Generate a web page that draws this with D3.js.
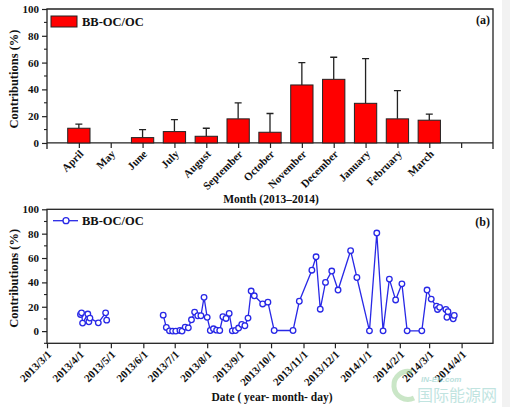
<!DOCTYPE html>
<html><head><meta charset="utf-8">
<script src="https://cdn.jsdelivr.net/npm/d3@7"></script>
<style>
html,body{margin:0;padding:0;background:#fff;}
svg{display:block;}
text{font-family:"Liberation Serif","Times New Roman",serif;font-weight:bold;fill:#111;}
</style></head>
<body><svg id="c" width="510" height="407"></svg>
<script>
// ---- Data: panel (a) monthly bars ----
const months = ["April","May","June","July","August","September","October","November","December","January","February","March"];
const monthValues = [11, null, 4, 8.5, 5, 18, 8, 43.3, 47.5, 29.6, 18, 17];
const monthErrors = [3, null, 6, 9, 6, 12, 14, 16.7, 16.5, 33.4, 21, 4.6];
const yTicksA = [0, 20, 40, 60, 80, 100];

// ---- Data: panel (b) daily series (two sampled periods) ----
const datesSpring = ["2013-04-02","2013-04-03","2013-04-04","2013-04-09","2013-04-10","2013-04-11","2013-04-19","2013-04-26","2013-04-27"];
const valuesSpring = [13.7, 15, 6.6, 14, 7.7, 10.7, 6.8, 15, 9];
const datesMain = ["2013-06-20","2013-06-23","2013-06-26","2013-06-29","2013-07-02","2013-07-06","2013-07-08","2013-07-11","2013-07-14","2013-07-17",
  "2013-07-20","2013-07-23","2013-07-26","2013-07-29","2013-08-01","2013-08-04","2013-08-07","2013-08-10","2013-08-13","2013-08-16",
  "2013-08-19","2013-08-22","2013-08-25","2013-08-28","2013-08-31","2013-09-03","2013-09-06","2013-09-09","2013-09-12","2013-09-15",
  "2013-09-23","2013-09-28","2013-10-04","2013-10-22","2013-10-28","2013-11-09","2013-11-13","2013-11-17","2013-11-22","2013-11-28",
  "2013-12-04","2013-12-16","2013-12-22","2014-01-03","2014-01-10","2014-01-16","2014-01-22","2014-01-28","2014-02-03","2014-02-08",
  "2014-02-22","2014-02-27","2014-03-03","2014-03-08","2014-03-09","2014-03-11","2014-03-17","2014-03-18","2014-03-19","2014-03-24","2014-03-25"];
const valuesMain = [13.1, 3, 0.2, 0, 0, 0.5, 0, 3.3, 2.7, 9.3,
  15.6, 12.6, 12.6, 27.7, 11.3, 0.5, 1.9, 0.8, 0.5, 11.8,
  10.4, 14.5, 0.2, 0.5, 2.5, 5.5, 4.4, 10.7, 32.9, 29,
  22.3, 23.8, 0.5, 0.5, 24.5, 50, 61, 18, 40, 49.3,
  33.7, 66, 44, 0.2, 80.5, 0.2, 42.7, 25.6, 38.8, 0.2,
  0.2, 33.7, 26.3, 20.4, 17.8, 19.5, 17.8, 11.4, 16, 10.1, 12.9];
const dateTickLabels = ["2013/3/1","2013/4/1","2013/5/1","2013/6/1","2013/7/1","2013/8/1","2013/9/1","2013/10/1","2013/11/1","2013/12/1","2014/1/1","2014/2/1","2014/3/1","2014/4/1"];
const yTicksB = [0, 20, 40, 60, 80, 100];

const svg = d3.select("#c");
svg.append("rect").attr("x",502).attr("y",0).attr("width",8).attr("height",407).attr("fill","#f2f2f2");

const L = 47, R = 493;
const fs = 11;

// ================= Panel (a) =================
const xA = d3.scaleLinear().domain([0, 14]).range([L, R]);
const yA = d3.scaleLinear().domain([-4.5, 100]).range([149, 9]);
const gA = svg.append("g");

gA.append("path").attr("d", `M${L},${yA(-4.5)}V${yA(100)}H${R}V${yA(-4.5)}`)
  .attr("fill","none").attr("stroke","#222").attr("stroke-width",1.3);

const yAxisA = d3.axisLeft(yA).tickValues(yTicksA).tickSize(5).tickPadding(3);
const ga = gA.append("g").attr("transform",`translate(${L},0)`).call(yAxisA);
ga.select(".domain").remove();
ga.selectAll("line").attr("stroke","#222").attr("stroke-width",1.2);
ga.selectAll("text").attr("font-size",fs).style("font-family","Liberation Serif").style("font-weight","bold");
const minorA = d3.range(10, 100, 20);
gA.selectAll(".mA").data(minorA).join("line")
  .attr("x1",L-3).attr("x2",L).attr("y1",d=>yA(d)).attr("y2",d=>yA(d)).attr("stroke","#222").attr("stroke-width",1.1);

const monthIdx = d3.range(1, 14);
const xAxisA = d3.axisBottom(xA).tickValues(monthIdx).tickSize(5).tickFormat(d => months[d-1] || "");
const gx = gA.append("g").attr("transform",`translate(0,${yA(0)})`).call(xAxisA);
gx.select(".domain").attr("stroke","#222").attr("stroke-width",1.3).attr("d",`M${L},0H${R}`);
gx.selectAll("line").attr("stroke","#222").attr("stroke-width",1.2);
gx.selectAll("text").attr("font-size",fs).attr("text-anchor","end")
  .attr("transform","translate(2,9) rotate(-45)").attr("y",0).attr("x",0).attr("dy","0.35em")
  .style("font-family","Liberation Serif").style("font-weight","bold");

const bw = xA(0.7) - xA(0);
const barData = months.map((m,i)=>({i:i+1, v:monthValues[i], e:monthErrors[i]})).filter(d=>d.v!=null);
gA.selectAll(".eb").data(barData).join("path")
  .attr("d", d=>`M${xA(d.i)},${yA(d.v)}V${yA(d.v+d.e)}M${xA(d.i)-3.5},${yA(d.v+d.e)}H${xA(d.i)+3.5}`)
  .attr("stroke","#222").attr("stroke-width",1.3).attr("fill","none");
gA.selectAll(".bar").data(barData).join("rect")
  .attr("x", d=>xA(d.i)-bw/2).attr("width", bw)
  .attr("y", d=>yA(d.v)).attr("height", d=>yA(0)-yA(d.v))
  .attr("fill","#ff0000").attr("stroke","#222").attr("stroke-width",1);

gA.append("rect").attr("x",51).attr("y",16).attr("width",26).attr("height",11).attr("fill","#ff0000").attr("stroke","#222").attr("stroke-width",1);
gA.append("text").attr("x",82).attr("y",26).attr("font-size",12.5).text("BB-OC/OC");
gA.append("text").attr("x",490).attr("y",24).attr("text-anchor","end").attr("font-size",12).text("(a)");
gA.append("text").attr("transform",`translate(18,${(yA(0)+yA(100))/2+3}) rotate(-90)`).attr("text-anchor","middle").attr("font-size",12.5).text("Contributions (%)");
gA.append("text").attr("x",271).attr("y",203).attr("text-anchor","middle").attr("font-size",11.5).text("Month (2013\u20132014)");

// ================= Panel (b) =================
const parse = d3.timeParse("%Y-%m-%d");
const xB = d3.scaleTime().domain([parse("2013-03-01"), parse("2014-05-01")]).range([L, R]);
const yB = d3.scaleLinear().domain([-10, 100]).range([343.3, 209.3]);
const gB = svg.append("g");

gB.append("rect").attr("x",L).attr("y",yB(100)).attr("width",R-L).attr("height",yB(-10)-yB(100))
  .attr("fill","none").attr("stroke","#222").attr("stroke-width",1.3);

const yAxisB = d3.axisLeft(yB).tickValues(yTicksB).tickSize(5).tickPadding(3);
const gb = gB.append("g").attr("transform",`translate(${L},0)`).call(yAxisB);
gb.select(".domain").remove();
gb.selectAll("line").attr("stroke","#222").attr("stroke-width",1.2);
gb.selectAll("text").attr("font-size",fs).style("font-family","Liberation Serif").style("font-weight","bold");
const minorB = d3.range(-10, 100, 20);
gB.selectAll(".mB").data(minorB).join("line")
  .attr("x1",L-3).attr("x2",L).attr("y1",d=>yB(d)).attr("y2",d=>yB(d)).attr("stroke","#222").attr("stroke-width",1.1);

const tickDates = dateTickLabels.map(s=>d3.timeParse("%Y/%-m/%-d")(s));
const xAxisB = d3.axisBottom(xB).tickValues(tickDates).tickSize(5).tickFormat(d3.timeFormat("%Y/%-m/%-d"));
const gxb = gB.append("g").attr("transform",`translate(0,${yB(-10)})`).call(xAxisB);
gxb.select(".domain").remove();
gxb.selectAll("line").attr("stroke","#222").attr("stroke-width",1.2);
gxb.selectAll("text").attr("font-size",fs).attr("text-anchor","end")
  .attr("transform","translate(2,9) rotate(-45)").attr("y",0).attr("x",0).attr("dy","0.35em")
  .style("font-family","Liberation Serif").style("font-weight","bold");

const blue = "#2828e6";
const groups = [
  datesSpring.map((d,i)=>({d:parse(d), v:valuesSpring[i]})),
  datesMain.map((d,i)=>({d:parse(d), v:valuesMain[i]}))
];
const line = d3.line().x(d=>xB(d.d)).y(d=>yB(d.v));
gB.selectAll(".ln").data(groups).join("path").attr("d", line)
  .attr("fill","none").attr("stroke",blue).attr("stroke-width",1.3);
gB.selectAll(".pt").data(groups.flat()).join("circle")
  .attr("cx", d=>xB(d.d)).attr("cy", d=>yB(d.v)).attr("r",2.8)
  .attr("fill","#fff").attr("stroke",blue).attr("stroke-width",1.3);

gB.append("line").attr("x1",53).attr("x2",78).attr("y1",220.7).attr("y2",220.7).attr("stroke",blue).attr("stroke-width",1.3);
gB.append("circle").attr("cx",66).attr("cy",220.7).attr("r",3).attr("fill","#fff").attr("stroke",blue).attr("stroke-width",1.3);
gB.append("text").attr("x",82).attr("y",225).attr("font-size",12.5).text("BB-OC/OC");
gB.append("text").attr("x",490).attr("y",226).attr("text-anchor","end").attr("font-size",12).text("(b)");
gB.append("text").attr("transform",`translate(18,${(yB(-10)+yB(100))/2+2}) rotate(-90)`).attr("text-anchor","middle").attr("font-size",12.5).text("Contributions (%)");
gB.append("text").attr("x",272).attr("y",401).attr("text-anchor","middle").attr("font-size",11.5).text("Date ( year- month- day)");

// watermark
const wm = svg.append("g").attr("opacity",0.55);
wm.append("path").attr("d","M412,372 A14,14 0 1,0 414,398").attr("fill","none").attr("stroke","#9fd39a").attr("stroke-width",5);
wm.append("text").attr("x",421).attr("y",382).attr("font-size",8).style("font-family","Liberation Sans").style("font-style","italic").style("fill","#7fc6c0").text("IN-EN.com");
wm.append("text").attr("x",417).attr("y",401).attr("font-size",16).style("font-family","Noto Sans CJK SC").style("font-weight","normal").style("fill","#8fcfc8").text("国际能源网");
</script></body></html>
